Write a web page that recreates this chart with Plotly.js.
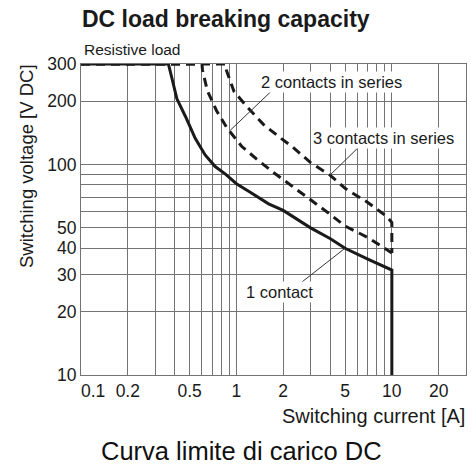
<!DOCTYPE html>
<html>
<head>
<meta charset="utf-8">
<script src="https://cdn.plot.ly/plotly-3.0.1.min.js"></script>
<style>html,body{margin:0;padding:0;background:#fff;}#chart{width:471px;height:466px;}</style>
</head>
<body>
<div id="chart"></div>
<script>
// ---- data ----
const oneContactCurrent = [0.1, 0.365, 0.385, 0.414, 0.47, 0.543, 0.629, 0.73, 0.85, 1.0, 1.22, 1.61, 2, 3, 4, 5, 7, 10, 10];
const oneContactVoltage = [300, 300, 256, 205, 169, 133, 111, 97.7, 90, 81, 74, 65, 60.5, 50, 44.5, 40, 35.5, 31.5, 10];

const twoContactsCurrent = [0.1, 0.6, 0.605, 0.65, 0.745, 0.87, 1.08, 1.35, 1.75, 2.4, 3, 4, 5, 7, 9.3, 10];
const twoContactsVoltage = [300, 300, 281, 224, 180, 149, 122, 106, 91, 77, 68, 58, 51, 45, 39.5, 38];

const threeContactsCurrent = [0.1, 0.85, 0.865, 0.965, 1.17, 1.49, 1.91, 2.3, 3, 4, 5, 7, 9.3, 10, 10];
const threeContactsVoltage = [300, 300, 278, 222, 188, 155, 134, 121, 102, 89, 77, 66, 56.5, 53, 38];

const xGridValues = [0.2, 0.3, 0.4, 0.5, 0.6, 0.7, 0.8, 0.9, 1, 2, 3, 4, 5, 6, 7, 8, 9, 10, 20];
const xTickText   = ['0.2', '', '', '0.5', '', '', '', '', '1', '2', '', '', '5', '', '', '', '', '10', '20'];
const yGridValues = [10, 20, 30, 40, 50, 60, 70, 80, 90, 100, 200, 300];
const yTickText   = ['10', '20', '30', '40', '50', '', '', '', '', '100', '200', '300'];

const titleText = 'DC load breaking capacity';
const subtitleText = 'Resistive load';
const xTitleText = 'Switching current [A]';
const yTitleText = 'Switching voltage [V DC]';
const captionText = 'Curva limite di carico DC';
const label1 = '1 contact';
const label2 = '2 contacts in series';
const label3 = '3 contacts in series';

// ---- styling ----
const SANS = '"Liberation Sans", Arial, sans-serif';
const INK = '#1a1a1a';
const GRID = '#737373';
const W = 471, H = 466;
const M = {l: 81, r: 5, t: 64, b: 91};
const PW = W - M.l - M.r, PH = H - M.t - M.b;
const px = x => (x - M.l) / PW;           // page pixel -> paper x
const py = y => (H - M.b - y) / PH;       // page pixel -> paper y
const L = Math.log10;

const lineBase = {mode: 'lines', type: 'scatter', hoverinfo: 'skip', cliponaxis: false, showlegend: false};
const traces = [
  Object.assign({}, lineBase, {x: threeContactsCurrent, y: threeContactsVoltage, line: {color: INK, width: 3, dash: '9px,6px'}}),
  Object.assign({}, lineBase, {x: twoContactsCurrent, y: twoContactsVoltage, line: {color: INK, width: 3, dash: '9px,6px'}}),
  Object.assign({}, lineBase, {x: oneContactCurrent, y: oneContactVoltage, line: {color: INK, width: 3}})
];

const labelFont = {family: SANS, size: 16.5, color: INK};
function leader(hx, hy, tx, ty) {
  return {xref: 'x', yref: 'y', axref: 'x', ayref: 'y', x: L(hx), y: L(hy), ax: L(tx), ay: L(ty),
          text: '', showarrow: true, arrowhead: 0, arrowwidth: 1, arrowcolor: '#333', standoff: 0, startstandoff: 0};
}
function label(text, cx, cy) {
  return {xref: 'x', yref: 'y', x: L(cx), y: L(cy), text: text, showarrow: false,
          font: labelFont, bgcolor: '#ffffff', borderpad: 1, xanchor: 'center', yanchor: 'middle'};
}

const annotations = [
  leader(0.91, 145, 1.7, 225),
  leader(4, 89, 6.2, 122),
  leader(5, 40, 2.5, 26.8),
  label(label2, 4.06, 246),
  label(label3, 8.8, 134),
  label(label1, 1.886, 24.9),
  {xref: 'paper', yref: 'paper', x: px(82), y: py(49), xanchor: 'left', yanchor: 'middle',
   text: subtitleText, showarrow: false, font: {family: SANS, size: 15.5, color: INK}},
  {xref: 'paper', yref: 'paper', x: px(26.5), y: py(166.5), xanchor: 'center', yanchor: 'middle', textangle: -90,
   text: yTitleText, showarrow: false, font: {family: SANS, size: 18.5, color: INK}},
  {xref: 'paper', yref: 'paper', x: px(467), y: py(416), xanchor: 'right', yanchor: 'middle',
   text: xTitleText, showarrow: false, font: {family: SANS, size: 20, color: INK}},
  {xref: 'x', yref: 'paper', x: L(0.1), xshift: 12, y: 0, yshift: -16, xanchor: 'center', yanchor: 'middle',
   text: '0.1', showarrow: false, font: {family: SANS, size: 17.5, color: INK}},
  {xref: 'paper', yref: 'paper', x: px(241), y: py(451), xanchor: 'center', yanchor: 'middle',
   text: captionText, showarrow: false, font: {family: SANS, size: 25.5, color: '#111'}}
];

const layout = {
  width: W, height: H,
  margin: M,
  paper_bgcolor: '#fff', plot_bgcolor: '#fff',
  showlegend: false,
  title: {text: titleText, font: {family: SANS, size: 23, weight: 'bold', color: INK},
          xref: 'paper', x: px(82), xanchor: 'left', yref: 'container', y: 1 - 19 / H, yanchor: 'middle'},
  xaxis: {type: 'log', range: [L(0.1), L(30)], tickmode: 'array', tickvals: xGridValues, ticktext: xTickText,
          showgrid: true, gridcolor: GRID, gridwidth: 1, zeroline: false, ticks: '',
          showline: true, mirror: true, linecolor: GRID, linewidth: 1,
          tickfont: {family: SANS, size: 17.5, color: INK}, fixedrange: true},
  yaxis: {type: 'log', range: [L(10), L(300)], tickmode: 'array', tickvals: yGridValues, ticktext: yTickText,
          showgrid: true, gridcolor: GRID, gridwidth: 1, zeroline: false, ticks: '',
          showline: true, mirror: true, linecolor: GRID, linewidth: 1,
          tickfont: {family: SANS, size: 17.5, color: INK}, fixedrange: true},
  annotations: annotations
};

Plotly.newPlot('chart', traces, layout, {displayModeBar: false, staticPlot: true});
</script>
</body>
</html>
